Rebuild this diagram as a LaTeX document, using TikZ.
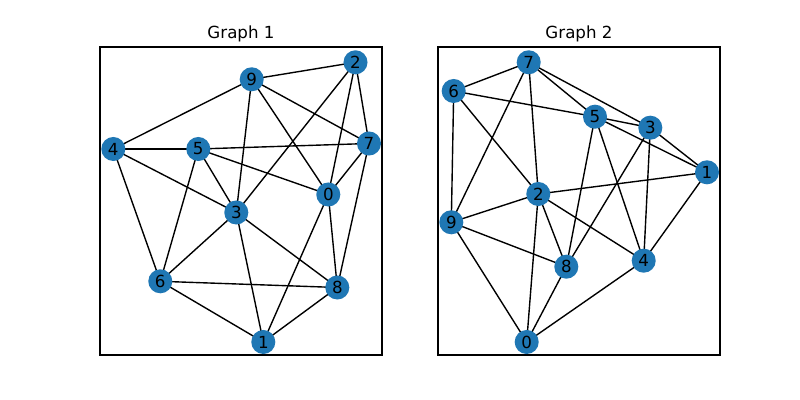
\documentclass[tikz,border=0pt]{standalone}
\usepackage{fontspec}
\setmainfont{DejaVu Sans}
\definecolor{nodeblue}{HTML}{1F77B4}
\begin{document}
\begin{tikzpicture}[x=0.72pt,y=-0.72pt,
  vtx/.style={circle,fill=nodeblue,minimum size=17.3pt,inner sep=0pt,font=\fontsize{12}{14}\selectfont},
  edge/.style={black,line width=1pt},
  frame/.style={black,line width=0.8pt},
  ttl/.style={font=\fontsize{12}{14}\selectfont}]
\useasboundingbox (0,0) rectangle (800,400);
\fill[white] (0,0) rectangle (800,400);
% Graph 1
\draw[frame] (100,47) rectangle (382,355);
\node[ttl] (t1) at (241,34) {Graph 1};
\coordinate (a9) at (251.7,79.3);
\coordinate (a2) at (355.5,62.3);
\coordinate (a7) at (369,143.5);
\coordinate (a4) at (113.3,149);
\coordinate (a5) at (198.3,149);
\coordinate (a0) at (328.3,194.5);
\coordinate (a3) at (236.3,212.5);
\coordinate (a6) at (160.3,281.3);
\coordinate (a8) at (337.3,287.5);
\coordinate (a1) at (263.3,342);
\foreach \u/\v in {9/2,9/4,9/3,9/0,9/7,2/3,2/0,2/7,7/5,7/0,7/8,4/5,4/3,4/6,5/0,5/3,5/6,0/1,0/8,3/6,3/1,3/8,6/8,6/1,8/1}
  \draw[edge] (a\u) -- (a\v);
\foreach \n in {0,...,9}
  \node[vtx] (na\n) at (a\n) {\n};
% Graph 2
\draw[frame] (438,47) rectangle (720,355);
\node[ttl] (t2) at (579,34) {Graph 2};
\coordinate (b7) at (528.7,62.3);
\coordinate (b6) at (453.7,91);
\coordinate (b5) at (595,116.7);
\coordinate (b3) at (650.3,127.7);
\coordinate (b1) at (707,172.3);
\coordinate (b2) at (538.3,194);
\coordinate (b9) at (451.3,222.3);
\coordinate (b8) at (566.3,266.7);
\coordinate (b4) at (643.7,260.7);
\coordinate (b0) at (526.7,342);
\foreach \u/\v in {7/6,7/5,7/3,7/2,7/9,6/5,6/9,6/2,5/3,5/1,5/8,5/4,3/1,3/8,3/4,1/2,1/4,2/9,2/8,2/4,2/0,9/8,9/0,8/0,4/0}
  \draw[edge] (b\u) -- (b\v);
\foreach \n in {0,...,9}
  \node[vtx] (nb\n) at (b\n) {\n};
\end{tikzpicture}
\end{document}
